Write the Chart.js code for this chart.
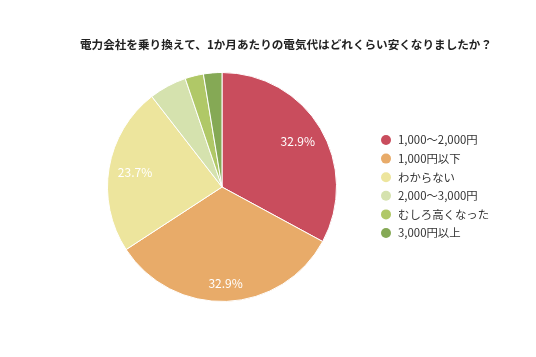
<!DOCTYPE html>
<html><head><meta charset="utf-8">
<script src="https://cdn.jsdelivr.net/npm/chart.js@4.4.1/dist/chart.umd.min.js"></script>
<style>html,body{margin:0;padding:0;background:#fff}#wrap{width:536px;height:357px}</style>
</head><body><div id="wrap"><canvas id="c" width="536" height="357"></canvas></div>
<script>
const titleText = '電力会社を乗り換えて、1か月あたりの電気代はどれくらい安くなりましたか？';
const categories = ['1,000～2,000円','1,000円以下','わからない','2,000～3,000円','むしろ高くなった','3,000円以上'];
const values = [32.9, 32.9, 23.7, 5.3, 2.6, 2.6];
const colors = ['#c94d5d','#e8ab69','#ede59d','#d5e2ae','#b0c867','#85a955'];
const FONT = '"Noto Sans CJK JP","Noto Sans",sans-serif';

const extras = {
  id:'extras',
  afterDatasetsDraw(chart){
    const ctx = chart.ctx;
    const meta = chart.getDatasetMeta(0);
    const total = values.reduce((a,b)=>a+b,0);
    ctx.save();
    ctx.fillStyle = '#fff';
    ctx.font = '12px ' + FONT;
    ctx.textAlign = 'center';
    ctx.textBaseline = 'middle';
    meta.data.forEach((arc,i)=>{
      const v = values[i];
      if (v/total < 0.1) return;
      const p = arc.getProps(['x','y','startAngle','endAngle','outerRadius'],true);
      const mid = (p.startAngle+p.endAngle)/2;
      const r = p.outerRadius*0.77;
      const yShift = Math.max(0, Math.sin(mid)) * 8;
      ctx.fillText(v.toFixed(1)+'%', p.x+Math.cos(mid)*r, p.y+Math.sin(mid)*r + yShift);
    });
    ctx.restore();
  },
  afterDraw(chart){
    const ctx = chart.ctx;
    ctx.save();
    ctx.fillStyle = '#222';
    ctx.font = 'bold 11.6px ' + FONT;
    ctx.textAlign = 'center';
    ctx.textBaseline = 'middle';
    ctx.fillText(titleText, 286, 45);
    ctx.font = '11.4px ' + FONT;
    ctx.textAlign = 'left';
    categories.forEach((c,i)=>{
      const y = 140 + i*18.6;
      ctx.beginPath();
      ctx.fillStyle = colors[i];
      ctx.arc(386, y, 5, 0, Math.PI*2);
      ctx.fill();
      ctx.fillStyle = '#333';
      ctx.fillText(c, 398, y);
    });
    ctx.restore();
  }
};

new Chart(document.getElementById('c'), {
  type:'pie',
  data:{labels:categories, datasets:[{data:values, backgroundColor:colors, borderColor:'#fff', borderWidth:1}]},
  options:{
    responsive:false, animation:false,
    layout:{padding:{top:72, bottom:357-302, left:107, right:536-337}},
    plugins:{legend:{display:false}, title:{display:false}, tooltip:{enabled:false}}
  },
  plugins:[extras]
});
</script></body></html>
